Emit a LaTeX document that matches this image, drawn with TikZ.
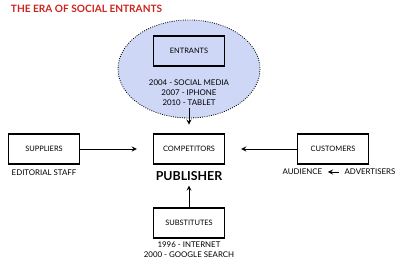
\documentclass[tikz,border=0pt]{standalone}
\usepackage{fontspec}
\setmainfont{Lato}
\usetikzlibrary{positioning}
\definecolor{titleRed}{RGB}{205,35,30}
\definecolor{cloudBlue}{RGB}{206,216,246}

\begin{document}
\begin{tikzpicture}[x=0.25mm, y=-0.25mm, >=stealth,
    force/.style={draw, line width=0.9pt, minimum width=17.8mm, minimum height=7.5mm, inner sep=1pt, font=\fontsize{5.3}{6}\selectfont},
    note/.style={font=\fontsize{5.6}{7.2}\selectfont, align=center, inner sep=1pt},
    link/.style={->, line width=0.6pt}]
    \useasboundingbox (0,0) rectangle (400,271);

    % Titel
    \node[anchor=west, text=titleRed, font=\fontsize{7.2}{8}\selectfont\bfseries] (title) at (6,9) {THE ERA OF SOCIAL ENTRANTS};

    % Wolke der Neulinge
    \draw[fill=cloudBlue, densely dotted, line width=0.6pt] (189,69) ellipse (71 and 49);

    % Kraefte
    \node[force] (entrants) at (189,51) {ENTRANTS};
    \node[note] (entrantyears) at (189,93) {2004 - SOCIAL MEDIA\\2007 - IPHONE\\2010 - TABLET};

    \node[force] (competitors) at (189,149) {COMPETITORS};
    \node[font=\fontsize{8.8}{9}\selectfont\bfseries] (publisher) at (189,176) {PUBLISHER};

    \node[force] (suppliers) at (44,149) {SUPPLIERS};
    \node[note] (staff) at (44,173) {EDITORIAL STAFF};

    \node[force] (customers) at (333,149) {CUSTOMERS};
    \node[note, anchor=west] (audience) at (281,172) {AUDIENCE};
    \node[note, anchor=east] (advertisers) at (397,172) {ADVERTISERS};

    \node[force] (substitutes) at (189,223) {SUBSTITUTES};
    \node[note] (subyears) at (189,250) {1996 - INTERNET\\2000 - GOOGLE SEARCH};

    % Pfeile
    \draw[link, shorten >=2.2mm] (entrantyears) -- (competitors);
    \draw[link] (suppliers) -- ([xshift=-4mm]competitors.west);
    \draw[link] (customers) -- ([xshift=4mm]competitors.east);
    \draw[link] (substitutes) -- (publisher);
    \draw[link, shorten <=1mm, shorten >=1mm] (advertisers) -- (audience);
\end{tikzpicture}
\end{document}
